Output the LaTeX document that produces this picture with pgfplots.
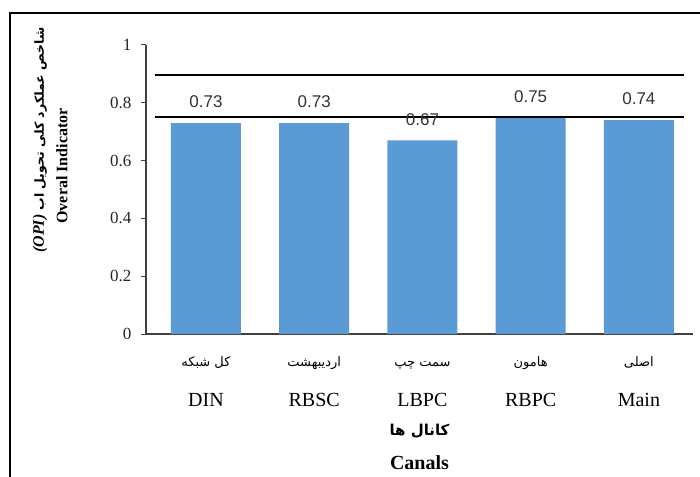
\documentclass[border=0pt]{standalone}
\usepackage{pgfplots}
\pgfplotsset{compat=1.18}
\usepackage{fontspec}
\setmainfont{Liberation Serif}
\newfontfamily\sansf{Liberation Sans}
\newfontfamily\arabicfont[Script=Arabic]{DejaVu Sans}
\TeXXeTstate=1
\definecolor{barblue}{HTML}{5B9BD5}
\definecolor{lblgray}{HTML}{404040}
\newcommand{\fa}{\arabicfont\fontsize{13}{16}\selectfont\rule[-5pt]{0pt}{17pt}}
\begin{document}
\begin{tikzpicture}[x=1pt,y=1pt]
\useasboundingbox (0,0) rectangle (700,476);
\draw[line width=2.5pt] (10,-10) -- (10,463) -- (710,463);
\begin{axis}[
  at={(146pt,142pt)}, anchor=south west,
  scale only axis, width=547pt, height=289pt,
  xmin=-0.554, xmax=4.5, ymin=0, ymax=1,
  clip=false,
  axis x line*=bottom, axis y line*=left,
  axis line style={line width=1.6pt, color=lblgray},
  /pgf/number format/assume math mode=true,
  ytick={0,0.2,0.4,0.6,0.8,1},
  yticklabel style={font=\fontsize{17}{20}\selectfont, color=black!85, xshift=-6pt},
  xtick={0,1,2,3,4},
  xticklabels={
    {{\fa\beginR کل شبکه\endR}\\{DIN}},
    {{\fa\beginR اردیبهشت\endR}\\{RBSC}},
    {{\fa\beginR سمت چپ\endR}\\{LBPC}},
    {{\fa\beginR هامون\endR}\\{RBPC}},
    {{\fa\beginR اصلی\endR}\\{Main}}},
  xticklabel style={align=center, anchor=north, font=\fontsize{20}{40}\selectfont, yshift=-12pt},
  x tick style={draw=none},
  y tick style={line width=1pt, color=lblgray},
  major tick length=5pt,
  tick align=outside,
  xlabel={{\arabicfont\bfseries\fontsize{15}{18}\selectfont\beginR کانال ها\endR}\\{\bfseries Canals}},
  xlabel style={at={(axis description cs:0.5,0)}, anchor=north, yshift=-87pt, align=center, font=\fontsize{20}{34}\selectfont},
]
\addplot[ybar, bar width=70pt, fill=barblue, draw=none,
  nodes near coords,
  every node near coord/.append style={font=\sansf\fontsize{17}{20}\selectfont, color=black!80, anchor=center, yshift=21pt}]
  coordinates {(0,0.73) (1,0.73) (2,0.67) (3,0.75) (4,0.74)};
\addplot[black, line width=1.3pt, forget plot] coordinates {(-0.471,0.896) (4.414,0.896)};
\addplot[black, line width=1.3pt, forget plot] coordinates {(-0.471,0.751) (4.414,0.751)};
\end{axis}
\node[rotate=90, font=\fontsize{16}{19}\selectfont] at (40,336)
  {{\bfseries\itshape (OPI)}\ {\arabicfont\bfseries\fontsize{12.5}{15}\selectfont\beginR شاخص عملکرد کلی تحویل اب\endR}};
\node[rotate=90, font=\bfseries\fontsize{16}{19}\selectfont] at (62,310) {Overal Indicator};
\end{tikzpicture}
\end{document}
